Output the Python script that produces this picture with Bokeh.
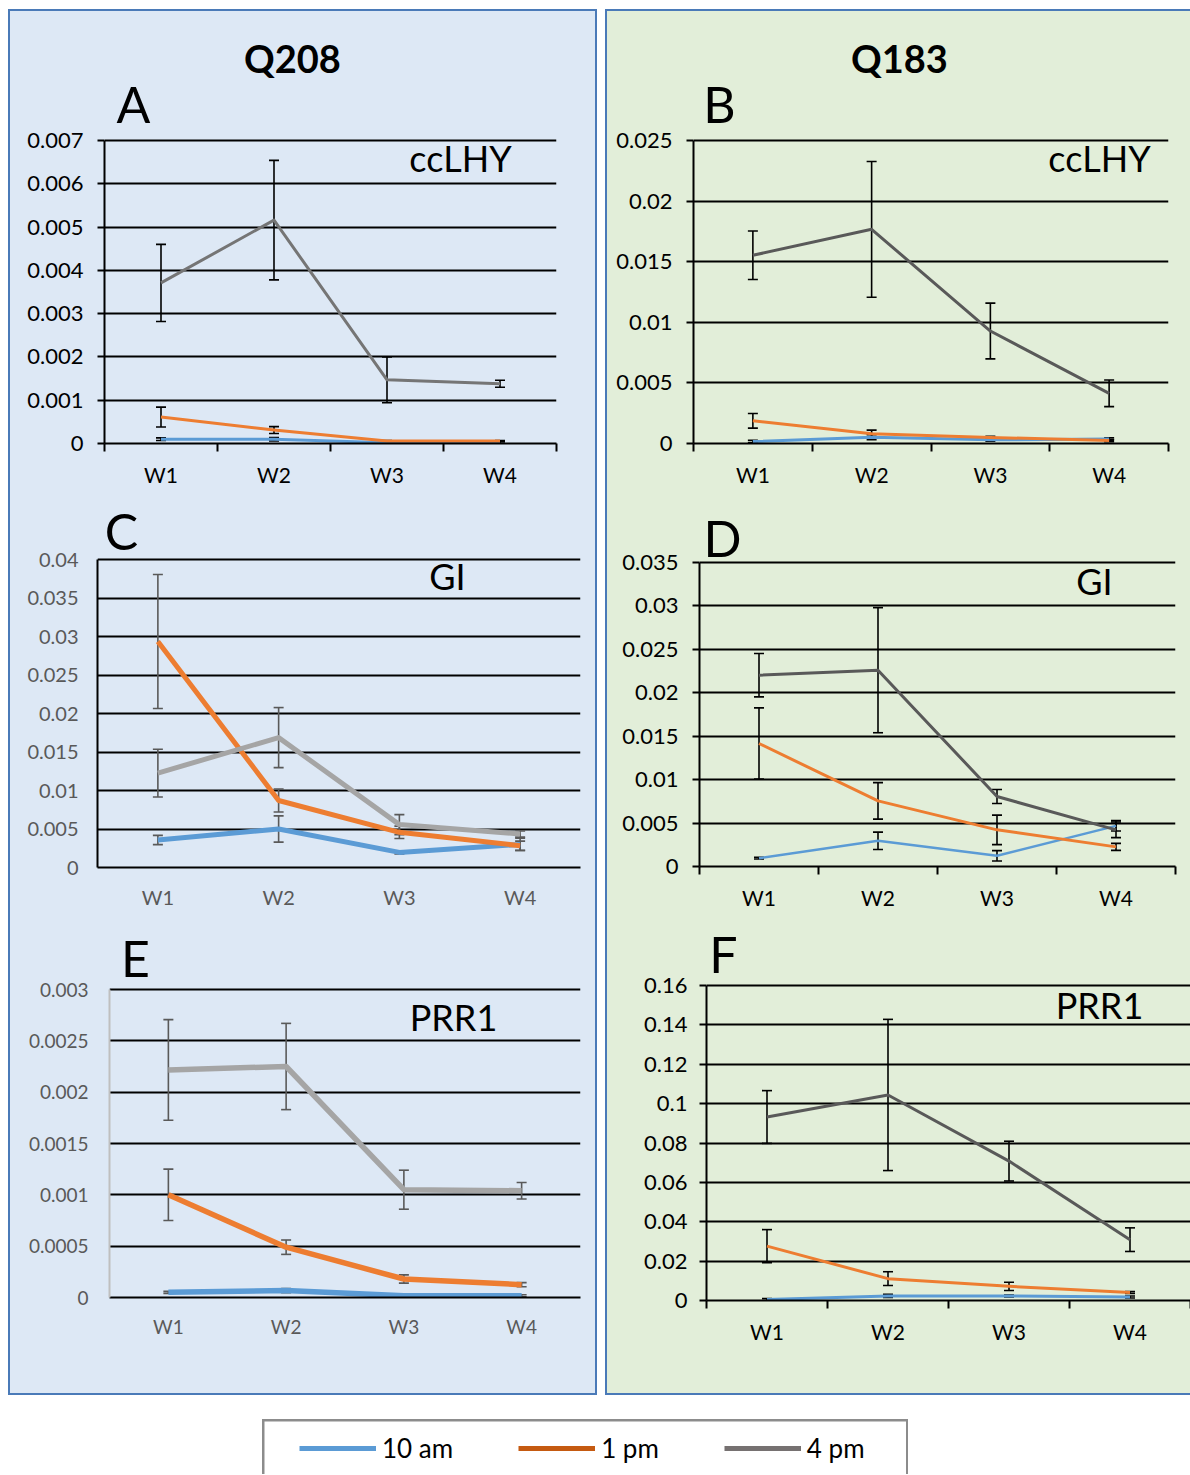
from bokeh.plotting import figure
from bokeh.models import (FactorRange, Range1d, FixedTicker, LinearAxis, CustomJSTickFormatter,
                          Whisker, TeeHead, ColumnDataSource, Label, Legend, LegendItem, Spacer)
from bokeh.layouts import row, column
from bokeh.embed import file_html
from bokeh.resources import INLINE

FONT = "Lato"

# ---------------- data ----------------
weeks = ["W1", "W2", "W3", "W4"]
series_names = ["10 am", "1 pm", "4 pm"]

# A: ccLHY, Q208
a_10am = [0.0001, 0.0001, 0.00002, 0.00002]
a_10am_err = [0.00003, 0.00004, 0.00001, 0.00002]
a_1pm = [0.00061, 0.00031, 0.00006, 0.00006]
a_1pm_err = [0.00023, 0.00008, 0.00001, 0.00001]
a_4pm = [0.00371, 0.00516, 0.00147, 0.00138]
a_4pm_err = [0.00089, 0.00138, 0.00053, 0.00008]
a_yticks = [0, 0.001, 0.002, 0.003, 0.004, 0.005, 0.006, 0.007]
a_ylabels = ["0", "0.001", "0.002", "0.003", "0.004", "0.005", "0.006", "0.007"]

# B: ccLHY, Q183
b_10am = [0.00016, 0.00052, 0.0003, 0.00038]
b_10am_err = [0.0001, 0.0002, 0.0001, 0.0001]
b_1pm = [0.00187, 0.0008, 0.0005, 0.00025]
b_1pm_err = [0.0006, 0.0003, 0.0001, 0.0001]
b_4pm = [0.01553, 0.01767, 0.00928, 0.00414]
b_4pm_err = [0.002, 0.0056, 0.0023, 0.0011]
b_yticks = [0, 0.005, 0.01, 0.015, 0.02, 0.025]
b_ylabels = ["0", "0.005", "0.01", "0.015", "0.02", "0.025"]

# C: GI, Q208
c_10am = [0.00357, 0.005, 0.00196, 0.003]
c_10am_err = [0.0006, 0.0017, 0.0002, 0.0008]
c_1pm = [0.02935, 0.0087, 0.00457, 0.00283]
c_1pm_err = [0.0087, 0.0015, 0.0008, 0.0006]
c_4pm = [0.01226, 0.01687, 0.00557, 0.00435]
c_4pm_err = [0.0031, 0.0039, 0.0013, 0.0004]
c_yticks = [0, 0.005, 0.01, 0.015, 0.02, 0.025, 0.03, 0.035, 0.04]
c_ylabels = ["0", "0.005", "0.01", "0.015", "0.02", "0.025", "0.03", "0.035", "0.04"]

# D: GI, Q183
d_10am = [0.00096, 0.00296, 0.00123, 0.00468]
d_10am_err = [0.0001, 0.001, 0.0006, 0.0006]
d_1pm = [0.01416, 0.00756, 0.00422, 0.00226]
d_1pm_err = [0.0041, 0.0021, 0.0017, 0.0004]
d_4pm = [0.02203, 0.0226, 0.00806, 0.00422]
d_4pm_err = [0.0025, 0.0072, 0.0008, 0.0009]
d_yticks = [0, 0.005, 0.01, 0.015, 0.02, 0.025, 0.03, 0.035]
d_ylabels = ["0", "0.005", "0.01", "0.015", "0.02", "0.025", "0.03", "0.035"]

# E: PRR1, Q208
e_10am = [0.00005, 0.000067, 0.000017, 0.000017]
e_10am_err = [0.00001, 0.00002, 0.00001, 0.00001]
e_1pm = [0.001, 0.00049, 0.00018, 0.000125]
e_1pm_err = [0.00025, 0.00007, 0.00004, 0.00002]
e_4pm = [0.002217, 0.00225, 0.00105, 0.00104]
e_4pm_err = [0.00049, 0.00042, 0.00019, 0.00008]
e_yticks = [0, 0.0005, 0.001, 0.0015, 0.002, 0.0025, 0.003]
e_ylabels = ["0", "0.0005", "0.001", "0.0015", "0.002", "0.0025", "0.003"]

# F: PRR1, Q183
f_10am = [0.0005, 0.0023, 0.0023, 0.0018]
f_10am_err = [0.0005, 0.0008, 0.0005, 0.0005]
f_1pm = [0.0276, 0.0111, 0.0072, 0.0041]
f_1pm_err = [0.0084, 0.0035, 0.0021, 0.0005]
f_4pm = [0.0932, 0.1044, 0.0708, 0.0309]
f_4pm_err = [0.0134, 0.0384, 0.0101, 0.006]
f_yticks = [0, 0.02, 0.04, 0.06, 0.08, 0.1, 0.12, 0.14, 0.16]
f_ylabels = ["0", "0.02", "0.04", "0.06", "0.08", "0.1", "0.12", "0.14", "0.16"]

# ---------------- styles ----------------
BLUE = "#5b9bd5"
ORANGE = "#ed7d31"
LEG_COLORS = ["#5b9bd5", "#c55a11", "#767171"]
BG_LEFT = "#dde8f5"
BG_RIGHT = "#e2eed9"
PANEL_BORDER = "#4a7ab8"


def make_panel(series, errs, yticks, ylabels, w, h, left, right, top_gap, bottom, gray,
               widths, err_color, label_color, y_font, x_font, x_ticks, yaxis_color, y_tick_out,
               y_standoff, x_standoff, texts):
    frame_h = h - bottom
    y_end = yticks[-1] * frame_h / (frame_h - top_gap)
    p = figure(width=w, height=h, x_range=FactorRange(factors=weeks),
               y_range=Range1d(yticks[0], y_end), x_axis_type=None,
               output_backend="svg", toolbar_location=None,
               min_border_left=left, min_border_right=right,
               min_border_top=0, min_border_bottom=bottom,
               background_fill_color=None, border_fill_color=None, outline_line_color=None)
    p.frame_align = False
    p.xgrid.grid_line_color = None
    p.ygrid.ticker = FixedTicker(ticks=yticks, minor_ticks=[])
    p.ygrid.grid_line_color = "black"
    p.ygrid.grid_line_width = 2

    ya = p.yaxis[0]
    ya.bounds = (yticks[0], yticks[-1])
    ya.ticker = FixedTicker(ticks=yticks, minor_ticks=[])
    ya.formatter = CustomJSTickFormatter(
        args=dict(vals=yticks, labels=ylabels),
        code="const i = vals.indexOf(tick); return i >= 0 ? labels[i] : String(tick);")
    ya.axis_line_color = yaxis_color
    ya.axis_line_width = 2
    ya.major_tick_line_color = yaxis_color
    ya.major_tick_line_width = 2
    ya.major_tick_out = y_tick_out
    ya.major_tick_in = 0
    ya.minor_tick_line_color = None
    ya.major_label_standoff = y_standoff
    ya.major_label_text_font = FONT
    ya.major_label_text_font_size = y_font
    ya.major_label_text_color = label_color

    n = len(weeks)
    xa = LinearAxis(
        ticker=FixedTicker(ticks=[i + 0.5 for i in range(n)], minor_ticks=list(range(n + 1))),
        formatter=CustomJSTickFormatter(args=dict(cats=weeks),
                                        code="const c = cats[Math.floor(tick)]; return c == null ? '' : c;"),
        axis_line_color="black", axis_line_width=2,
        major_tick_line_color=None, major_tick_out=0, major_tick_in=0,
        minor_tick_line_color="black" if x_ticks else None, minor_tick_line_width=2,
        minor_tick_out=8, minor_tick_in=0,
        major_label_standoff=x_standoff, major_label_text_font=FONT,
        major_label_text_font_size=x_font, major_label_text_color=label_color)
    p.add_layout(xa, "below")

    colors = [BLUE, ORANGE, gray]
    for vals, err, col, lw in zip(series, errs, colors, widths):
        src = ColumnDataSource(dict(x=weeks, y=vals,
                                    upper=[v + e for v, e in zip(vals, err)],
                                    lower=[v - e for v, e in zip(vals, err)]))
        p.line(x="x", y="y", source=src, line_color=col, line_width=lw, line_join="round")
        wk = Whisker(source=src, base="x", upper="upper", lower="lower", dimension="height",
                     line_color=err_color, line_width=1.6,
                     upper_head=TeeHead(size=10, line_color=err_color, line_width=1.6),
                     lower_head=TeeHead(size=10, line_color=err_color, line_width=1.6))
        p.add_layout(wk)

    for txt, x, y, size, bold in texts:
        p.add_layout(Label(x=x, y=y, x_units="screen", y_units="screen", text=txt,
                           text_font=FONT, text_font_size=size,
                           text_font_style="bold" if bold else "normal",
                           text_align="center", text_baseline="middle", text_color="black"))
    return p


pA = make_panel([a_10am, a_1pm, a_4pm], [a_10am_err, a_1pm_err, a_4pm_err], a_yticks, a_ylabels,
                585, 484, 94, 39, 129, 52, "#757575", [3, 3, 3], "black", "black",
                "22px", "21px", True, "black", 7, 14, 10,
                [("Q208", 188, 386, "38px", True), ("A", 29, 340, "50px", False),
                 ("ccLHY", 356, 286, "36px", False)])
pC = make_panel([c_10am, c_1pm, c_4pm], [c_10am_err, c_1pm_err, c_4pm_err], c_yticks, c_ylabels,
                585, 425, 87, 15, 64, 53, "#a5a5a5", [5, 5, 5], "#595959", "#595959",
                "20px", "20px", False, "black", 0, 19, 9,
                [("C", 24, 337, "50px", False), ("GI", 350, 292, "36px", False)])
pE = make_panel([e_10am, e_1pm, e_4pm], [e_10am_err, e_1pm_err, e_4pm_err], e_yticks, e_ylabels,
                585, 473, 99, 15, 69, 96, "#a5a5a5", [5.5, 5.5, 5.5], "#595959", "#595959",
                "19px", "19px", False, "#bfbfbf", 0, 21, 9,
                [("E", 26, 340, "50px", False), ("PRR1", 344, 281, "36px", False)])
pB = make_panel([b_10am, b_1pm, b_4pm], [b_10am_err, b_1pm_err, b_4pm_err], b_yticks, b_ylabels,
                583, 484, 86, 22, 129, 52, "#595959", [3, 3, 3], "black", "black",
                "22px", "21px", True, "black", 7, 14, 10,
                [("Q183", 206, 386, "38px", True), ("B", 26, 340, "50px", False),
                 ("ccLHY", 406, 286, "36px", False)])
pD = make_panel([d_10am, d_1pm, d_4pm], [d_10am_err, d_1pm_err, d_4pm_err], d_yticks, d_ylabels,
                583, 425, 92, 15, 67, 54, "#595959", [2.5, 3, 3], "black", "black",
                "22px", "21px", True, "black", 7, 14, 10,
                [("D", 23, 329, "50px", False), ("GI", 395, 286, "36px", False)])
pF = make_panel([f_10am, f_1pm, f_4pm], [f_10am_err, f_1pm_err, f_4pm_err], f_yticks, f_ylabels,
                583, 473, 99, 0, 65, 93, "#595959", [3, 3, 3], "black", "black",
                "22px", "21px", True, "black", 7, 12, 10,
                [("F", 17, 347, "50px", False), ("PRR1", 393, 296, "36px", False)])

# ---------------- legend ----------------
pL = figure(width=642, height=53, x_range=Range1d(0, 1), y_range=Range1d(0, 1),
            output_backend="svg", toolbar_location=None, min_border=0,
            background_fill_color="white", border_fill_color="white", outline_line_color=None)
pL.axis.visible = False
pL.grid.grid_line_color = None
items = []
for name, col in zip(series_names, LEG_COLORS):
    r = pL.line(x=[float("nan")], y=[float("nan")], line_color=col, line_width=5)
    items.append(LegendItem(label=name, renderers=[r]))
leg = Legend(items=items, orientation="horizontal", location=(35, 10), padding=0, margin=0,
             spacing=65, glyph_width=77, glyph_height=20, label_standoff=6,
             label_text_font=FONT, label_text_font_size="26px", label_text_color="black",
             border_line_color=None, background_fill_alpha=0)
pL.add_layout(leg)

# ---------------- layout ----------------
left_inner = column(pA, pC, pE, styles={"background-color": BG_LEFT})
right_inner = column(pB, pD, pF, styles={"background-color": BG_RIGHT})
left_panel = row(Spacer(width=2),
                 column(Spacer(height=2), left_inner, Spacer(height=2)),
                 Spacer(width=2), styles={"background-color": PANEL_BORDER})
right_panel = row(Spacer(width=2),
                  column(Spacer(height=2), right_inner, Spacer(height=2)),
                  styles={"background-color": PANEL_BORDER})
top_row = row(Spacer(width=8), left_panel, Spacer(width=8), right_panel)
legend_box = row(Spacer(width=2), column(Spacer(height=2), pL), Spacer(width=2),
                 styles={"background-color": "#8c8c8c"})
legend_row = row(Spacer(width=262), legend_box)
root = column(Spacer(height=9), top_row, Spacer(height=24), legend_row)

open("out.html", "w").write(file_html(root, INLINE))
